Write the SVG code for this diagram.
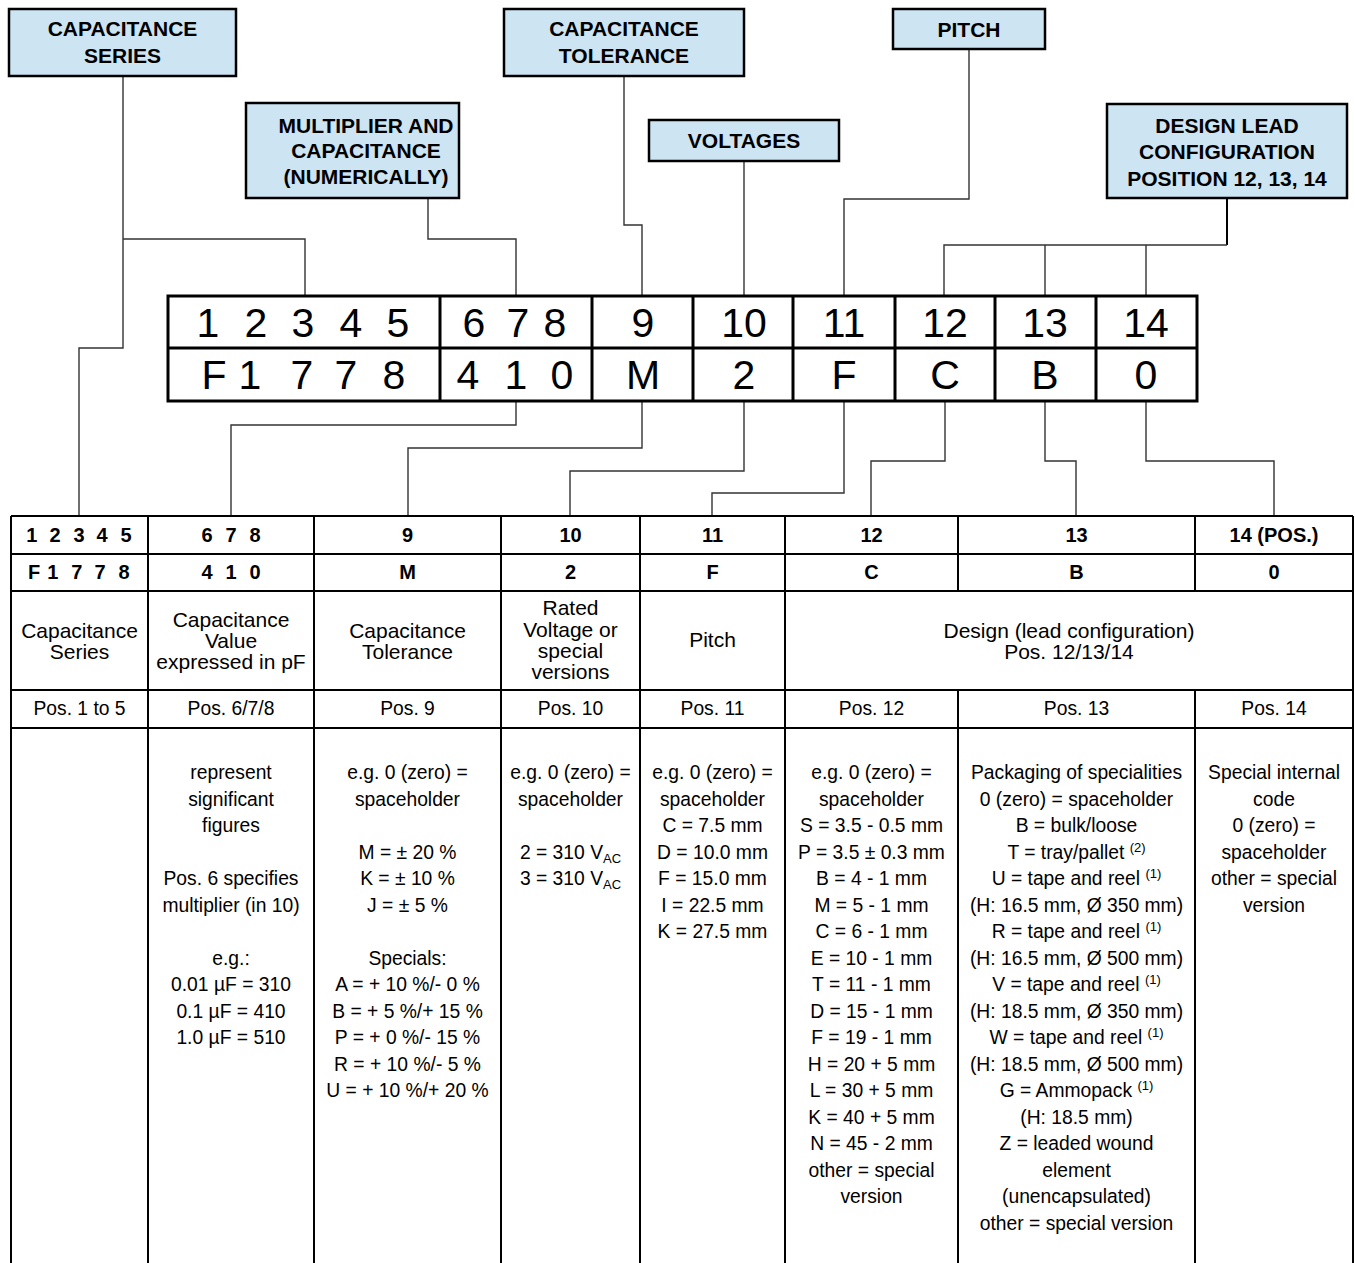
<svg xmlns="http://www.w3.org/2000/svg" width="1355" height="1263" viewBox="0 0 1355 1263">
<style>
text{font-family:"Liberation Sans",Arial,Helvetica,sans-serif;fill:#000;text-anchor:middle}
.box{fill:#cde4f3;stroke:#000;stroke-width:2.5}
.lbl{font-weight:bold;font-size:21px}
.big{font-size:41px}
.hd{font-weight:bold;font-size:20px}
.desc{font-size:21px}
.pos{font-size:19.3px}
.body{font-size:19.3px}
.sup{font-size:13px}
.conn{fill:none;stroke:#333;stroke-width:1.4}
.ct{fill:none;stroke:#000;stroke-width:3}
.tl{fill:none;stroke:#000;stroke-width:2}
</style>
<rect width="1355" height="1263" fill="#fff"/>

<g id="connectors">
<path class="conn" d="M123,76 V348 H79 V516"/>
<path class="conn" d="M123,239 H305 V296"/>
<path class="conn" d="M428,198 V239 H516 V296"/>
<path class="conn" d="M624,76 V225 H642 V296"/>
<path class="conn" d="M744,161 V296"/>
<path class="conn" d="M969,49 V199 H844 V296"/>
<path class="conn" d="M1227,198 V245" style="stroke:#000;stroke-width:2"/>
<path class="conn" d="M1227,245 H944 V296"/>
<path class="conn" d="M1045,245 V296"/>
<path class="conn" d="M1146,245 V296"/>
<path class="conn" d="M516,401 V425 H231 V516"/>
<path class="conn" d="M642,401 V448 H408 V516"/>
<path class="conn" d="M744,401 V471 H570 V516"/>
<path class="conn" d="M844,401 V493 H712 V516"/>
<path class="conn" d="M945,401 V461 H871 V516"/>
<path class="conn" d="M1045,401 V461 H1076 V516"/>
<path class="conn" d="M1146,401 V461 H1274 V516"/>
</g>

<g id="node-capacitance-series">
<rect class="box" x="9" y="9" width="227" height="67"/>
<text class="lbl" x="122.5" y="36">CAPACITANCE</text>
<text class="lbl" x="122.5" y="62.5">SERIES</text>
</g>
<g id="node-multiplier">
<rect class="box" x="246" y="103" width="213" height="95"/>
<text class="lbl" x="366" y="132.5">MULTIPLIER AND</text>
<text class="lbl" x="366" y="158">CAPACITANCE</text>
<text class="lbl" x="366" y="184">(NUMERICALLY)</text>
</g>
<g id="node-tolerance">
<rect class="box" x="504" y="9" width="240" height="67"/>
<text class="lbl" x="624" y="36">CAPACITANCE</text>
<text class="lbl" x="624" y="62.5">TOLERANCE</text>
</g>
<g id="node-voltages">
<rect class="box" x="649" y="120" width="190" height="41"/>
<text class="lbl" x="744" y="147.5">VOLTAGES</text>
</g>
<g id="node-pitch">
<rect class="box" x="893" y="9" width="152" height="40"/>
<text class="lbl" x="969" y="36.5">PITCH</text>
</g>
<g id="node-design">
<rect class="box" x="1107" y="104" width="240" height="94"/>
<text class="lbl" x="1227" y="132.5">DESIGN LEAD</text>
<text class="lbl" x="1227" y="159">CONFIGURATION</text>
<text class="lbl" x="1227" y="185.5">POSITION 12, 13, 14</text>
</g>

<g id="node-code-table">
<rect class="ct" x="168" y="296" width="1029" height="105" fill="#fff"/>
<path class="ct" d="M168,348 H1197 M440,296 V401 M592,296 V401 M693,296 V401 M793,296 V401 M895,296 V401 M995,296 V401 M1096,296 V401"/>
<text class="big" y="337" x="208 256 303 351 398">12345</text>
<text class="big" y="337" x="474 518 555">678</text>
<text class="big" y="337" x="643">9</text>
<text class="big" y="337" x="744">10</text>
<text class="big" y="337" x="844">11</text>
<text class="big" y="337" x="945">12</text>
<text class="big" y="337" x="1045">13</text>
<text class="big" y="337" x="1146">14</text>
<text class="big" y="389" x="214 250 302 346 394">F1778</text>
<text class="big" y="389" x="468 516 562">410</text>
<text class="big" y="389" x="643">M</text>
<text class="big" y="389" x="744">2</text>
<text class="big" y="389" x="844">F</text>
<text class="big" y="389" x="945">C</text>
<text class="big" y="389" x="1045">B</text>
<text class="big" y="389" x="1146">0</text>
</g>

<g id="node-info-table">
<path class="tl" d="M11,516 V1263 M1353,516 V1263 M11,516 H1353 M11,554 H1353 M11,591 H1353 M11,690 H1353 M11,728 H1353 M148,516 V1263 M314,516 V1263 M501,516 V1263 M640,516 V1263 M785,516 V1263 M958,516 V591 M958,690 V1263 M1195,516 V591 M1195,690 V1263"/>
<text class="hd" y="542" x="31.7 55 79 102 126">12345</text>
<text class="hd" y="542" x="207 231 255">678</text>
<text class="hd" y="542" x="407.5">9</text>
<text class="hd" y="542" x="570.5">10</text>
<text class="hd" y="542" x="712.5">11</text>
<text class="hd" y="542" x="871.5">12</text>
<text class="hd" y="542" x="1076.5">13</text>
<text class="hd" y="542" x="1274">14 (POS.)</text>
<text class="hd" y="579" x="34 52.7 76.7 100 124">F1778</text>
<text class="hd" y="579" x="207 231 255">410</text>
<text class="hd" y="579" x="407.5">M</text>
<text class="hd" y="579" x="570.5">2</text>
<text class="hd" y="579" x="712.5">F</text>
<text class="hd" y="579" x="871.5">C</text>
<text class="hd" y="579" x="1076.5">B</text>
<text class="hd" y="579" x="1274">0</text>

<text class="desc" x="79.5" y="638">Capacitance</text>
<text class="desc" x="79.5" y="659">Series</text>
<text class="desc" x="231" y="627">Capacitance</text>
<text class="desc" x="231" y="648">Value</text>
<text class="desc" x="231" y="669">expressed in pF</text>
<text class="desc" x="407.5" y="638">Capacitance</text>
<text class="desc" x="407.5" y="659">Tolerance</text>
<text class="desc" x="570.5" y="615">Rated</text>
<text class="desc" x="570.5" y="636.5">Voltage or</text>
<text class="desc" x="570.5" y="658">special</text>
<text class="desc" x="570.5" y="679">versions</text>
<text class="desc" x="712.5" y="647">Pitch</text>
<text class="desc" x="1069" y="638">Design (lead configuration)</text>
<text class="desc" x="1069" y="659">Pos. 12/13/14</text>

<text class="pos" x="79.5" y="715">Pos. 1 to 5</text>
<text class="pos" x="231" y="715">Pos. 6/7/8</text>
<text class="pos" x="407.5" y="715">Pos. 9</text>
<text class="pos" x="570.5" y="715">Pos. 10</text>
<text class="pos" x="712.5" y="715">Pos. 11</text>
<text class="pos" x="871.5" y="715">Pos. 12</text>
<text class="pos" x="1076.5" y="715">Pos. 13</text>
<text class="pos" x="1274" y="715">Pos. 14</text>

<text class="body" x="231" y="779">represent</text>
<text class="body" x="231" y="805.5">significant</text>
<text class="body" x="231" y="832">figures</text>
<text class="body" x="231" y="885">Pos. 6 specifies</text>
<text class="body" x="231" y="911.5">multiplier (in 10)</text>
<text class="body" x="231" y="964.5">e.g.:</text>
<text class="body" x="231" y="991">0.01 µF = 310</text>
<text class="body" x="231" y="1017.5">0.1 µF = 410</text>
<text class="body" x="231" y="1044">1.0 µF = 510</text>

<text class="body" x="407.5" y="779">e.g. 0 (zero) =</text>
<text class="body" x="407.5" y="805.5">spaceholder</text>
<text class="body" x="407.5" y="858.5">M = ± 20 %</text>
<text class="body" x="407.5" y="885">K = ± 10 %</text>
<text class="body" x="407.5" y="911.5">J = ± 5 %</text>
<text class="body" x="407.5" y="964.5">Specials:</text>
<text class="body" x="407.5" y="991">A = + 10 %/- 0 %</text>
<text class="body" x="407.5" y="1017.5">B = + 5 %/+ 15 %</text>
<text class="body" x="407.5" y="1044">P = + 0 %/- 15 %</text>
<text class="body" x="407.5" y="1070.5">R = + 10 %/- 5 %</text>
<text class="body" x="407.5" y="1097">U = + 10 %/+ 20 %</text>

<text class="body" x="570.5" y="779">e.g. 0 (zero) =</text>
<text class="body" x="570.5" y="805.5">spaceholder</text>
<text class="body" x="570.5" y="858.5">2 = 310 V<tspan class="sup" dy="4">AC</tspan></text>
<text class="body" x="570.5" y="885">3 = 310 V<tspan class="sup" dy="4">AC</tspan></text>

<text class="body" x="712.5" y="779">e.g. 0 (zero) =</text>
<text class="body" x="712.5" y="805.5">spaceholder</text>
<text class="body" x="712.5" y="832">C = 7.5 mm</text>
<text class="body" x="712.5" y="858.5">D = 10.0 mm</text>
<text class="body" x="712.5" y="885">F = 15.0 mm</text>
<text class="body" x="712.5" y="911.5">I = 22.5 mm</text>
<text class="body" x="712.5" y="938">K = 27.5 mm</text>

<text class="body" x="871.5" y="779">e.g. 0 (zero) =</text>
<text class="body" x="871.5" y="805.5">spaceholder</text>
<text class="body" x="871.5" y="832">S = 3.5 - 0.5 mm</text>
<text class="body" x="871.5" y="858.5">P = 3.5 ± 0.3 mm</text>
<text class="body" x="871.5" y="885">B = 4 - 1 mm</text>
<text class="body" x="871.5" y="911.5">M = 5 - 1 mm</text>
<text class="body" x="871.5" y="938">C = 6 - 1 mm</text>
<text class="body" x="871.5" y="964.5">E = 10 - 1 mm</text>
<text class="body" x="871.5" y="991">T = 11 - 1 mm</text>
<text class="body" x="871.5" y="1017.5">D = 15 - 1 mm</text>
<text class="body" x="871.5" y="1044">F = 19 - 1 mm</text>
<text class="body" x="871.5" y="1070.5">H = 20 + 5 mm</text>
<text class="body" x="871.5" y="1097">L = 30 + 5 mm</text>
<text class="body" x="871.5" y="1123.5">K = 40 + 5 mm</text>
<text class="body" x="871.5" y="1150">N = 45 - 2 mm</text>
<text class="body" x="871.5" y="1176.5">other = special</text>
<text class="body" x="871.5" y="1203">version</text>

<text class="body" x="1076.5" y="779">Packaging of specialities</text>
<text class="body" x="1076.5" y="805.5">0 (zero) = spaceholder</text>
<text class="body" x="1076.5" y="832">B = bulk/loose</text>
<text class="body" x="1076.5" y="858.5">T = tray/pallet <tspan class="sup" dy="-7">(2)</tspan></text>
<text class="body" x="1076.5" y="885">U = tape and reel <tspan class="sup" dy="-7">(1)</tspan></text>
<text class="body" x="1076.5" y="911.5">(H: 16.5 mm, Ø 350 mm)</text>
<text class="body" x="1076.5" y="938">R = tape and reel <tspan class="sup" dy="-7">(1)</tspan></text>
<text class="body" x="1076.5" y="964.5">(H: 16.5 mm, Ø 500 mm)</text>
<text class="body" x="1076.5" y="991">V = tape and reel <tspan class="sup" dy="-7">(1)</tspan></text>
<text class="body" x="1076.5" y="1017.5">(H: 18.5 mm, Ø 350 mm)</text>
<text class="body" x="1076.5" y="1044">W = tape and reel <tspan class="sup" dy="-7">(1)</tspan></text>
<text class="body" x="1076.5" y="1070.5">(H: 18.5 mm, Ø 500 mm)</text>
<text class="body" x="1076.5" y="1097">G = Ammopack <tspan class="sup" dy="-7">(1)</tspan></text>
<text class="body" x="1076.5" y="1123.5">(H: 18.5 mm)</text>
<text class="body" x="1076.5" y="1150">Z = leaded wound</text>
<text class="body" x="1076.5" y="1176.5">element</text>
<text class="body" x="1076.5" y="1203">(unencapsulated)</text>
<text class="body" x="1076.5" y="1229.5">other = special version</text>

<text class="body" x="1274" y="779">Special internal</text>
<text class="body" x="1274" y="805.5">code</text>
<text class="body" x="1274" y="832">0 (zero) =</text>
<text class="body" x="1274" y="858.5">spaceholder</text>
<text class="body" x="1274" y="885">other = special</text>
<text class="body" x="1274" y="911.5">version</text>
</g>
</svg>
